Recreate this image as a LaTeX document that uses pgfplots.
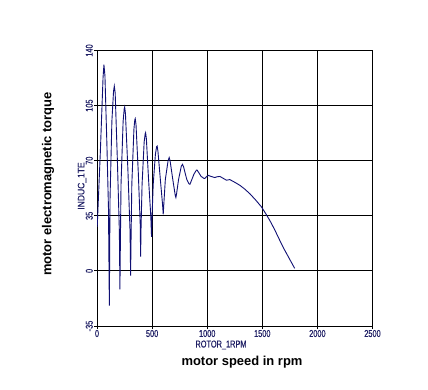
\documentclass[border=0pt]{standalone}
\usepackage{fontspec}
\setmainfont{Liberation Sans}
\newfontfamily\tickfont[FakeStretch=0.74,FakeBold=0.4]{Liberation Sans}
\newfontfamily\labfont[FakeStretch=0.9,FakeBold=0.4]{Liberation Sans}
\usepackage{pgfplots}
\pgfplotsset{compat=1.18}
\definecolor{tickblue}{RGB}{30,30,100}
\definecolor{curve}{RGB}{15,15,115}
\begin{document}
\begin{tikzpicture}[x=1bp,y=1bp]
\useasboundingbox (0,0) rectangle (428,390);
\begin{axis}[
  at={(97bp,64bp)}, anchor=south west,
  scale only axis, width=275.5bp, height=275.5bp,
  xmin=0, xmax=2500, ymin=-35, ymax=140,
  xtick={0,500,1000,1500,2000,2500},
  ytick={-35,0,35,70,105,140},
  grid=major, grid style={black, line width=0.8bp},
  axis line style={black, line width=0.8bp},
  tick style={black, line width=0.8bp},
  tick align=outside, major tick length=3bp,
  xtick pos=bottom, ytick pos=left,
  scaled ticks=false,
  /pgf/number format/assume math mode=true,
  /pgf/number format/1000 sep={},
  xticklabel style={font=\tickfont\fontsize{10}{10}\selectfont, text=tickblue, inner sep=0.8bp},
  yticklabel style={font=\tickfont\fontsize{10}{10}\selectfont, text=tickblue, rotate=90, anchor=south, inner sep=1bp},
]
\addplot[curve, line width=0.9bp] coordinates {
(2,28) (30,75) (55,123) (63,131) (72,124) (90,80) (104,40) (112,-22) (114,0) (118,45) (135,95) (150,114) (157,117.4) (165,113) (185,70) (203,25) (208,-11.7) (211,10) (218,55) (237,95) (247,103) (251,104.1) (258,100) (280,65) (300,25) (305,-3) (308,15) (316,55) (335,90) (343,96) (347,96.7) (354,93) (375,62) (392,30) (396,9) (399,25) (409,55) (428,82) (437,87) (441,87.8) (448,84) (468,58) (488,35) (495,21.6) (499,33) (510,55) (530,74) (541,79) (546,79.3) (553,76) (575,58) (595,42) (601,36) (606,42) (620,58) (645,70) (655,72) (663,70) (690,57) (710,48) (716,46.6) (722,49) (740,58) (765,66.5) (776,67.7) (786,66) (815,58) (835,55.3) (843,55) (852,56.5) (880,61.5) (902,64) (909,64) (918,63) (945,60) (970,58.8) (978,58.7) (988,59.5) (1009,60.7) (1035,60) (1069,59.3) (1090,59.8) (1115,60) (1145,58.8) (1175,57.6) (1205,58) (1250,56.3) (1296,54.4) (1340,52) (1386,49.1) (1440,45) (1492,40.7) (1530,36.5) (1567,32.2) (1610,26.5) (1658,19.5) (1700,13.6) (1750,7.2) (1794,1.6)
};
\end{axis}
\node[rotate=90, font=\bfseries\fontsize{13}{13}\selectfont] at (48,206) {motor electromagnetic torque};
\node[font=\bfseries\fontsize{13}{13}\selectfont] at (242,28) {motor speed in rpm};
\node[font=\tickfont\fontsize{10}{10}\selectfont, text=tickblue, inner sep=0pt] at (221,45) {ROTOR\_1RPM};
\node[rotate=90, font=\labfont\fontsize{9.5}{9.5}\selectfont, text=tickblue, inner sep=0pt] at (82,204) {INDUC\_1TE};
\end{tikzpicture}
\end{document}
